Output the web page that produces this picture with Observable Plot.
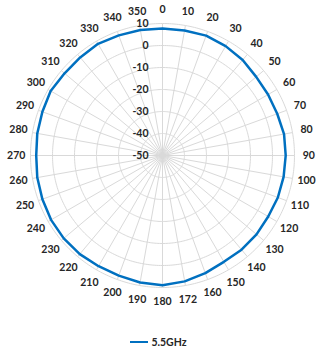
<!DOCTYPE html>
<html>
<head>
<meta charset="utf-8">
<script src="https://cdn.jsdelivr.net/npm/d3@7"></script>
<script src="https://cdn.jsdelivr.net/npm/@observablehq/plot@0.6"></script>
<style>
  html, body { margin: 0; padding: 0; background: #fff; }
  #chart { width: 317px; height: 353px; position: relative; font-family: Lato, "Open Sans", sans-serif; }
  #legend { position: absolute; left: 0; top: 336px; width: 317px; display: flex; justify-content: center; align-items: center; font-size: 10.5px; font-weight: bold; color: #262626; padding-left: 0px; box-sizing: border-box; }
  #legend .sw { display: inline-block; width: 18px; height: 2.5px; background: #0070C0; margin-right: 3px; }
</style>
</head>
<body>
<div id="chart"></div>
<script>
// Angles (degrees, clockwise from top) and their printed labels
const angles = [0,10,20,30,40,50,60,70,80,90,100,110,120,130,140,150,160,170,180,190,200,210,220,230,240,250,260,270,280,290,300,310,320,330,340,350];
const angleLabels = ["0","10","20","30","40","50","60","70","80","90","100","110","120","130","140","150","160","172","180","190","200","210","220","230","240","250","260","270","280","290","300","310","320","330","340","350"];
// Series values (dB) for 5.5GHz
const seriesName = "5.5GHz";
const gain = [7.7,7.7,8.0,7.4,6.7,5.6,5.4,5.5,6.1,6.0,5.9,5.8,5.5,5.8,5.9,5.8,6.9,8.1,9.0,8.6,8.1,8.1,8.5,8.6,8.5,8.1,7.8,7.4,7.8,8.1,8.7,8.1,8.2,8.6,8.1,7.9];
// Radial axis ticks
const ringValues = [-50,-40,-30,-20,-10,0,10];
const rMin = -50, rMax = 10;

const table = angles.map((a, i) => ({angle: a, label: angleLabels[i], gain: gain[i]}));
const lon = a => 180 - a;
const lat = v => 90 - (v - rMin);
const outer = rMax - rMin;
const labelLat = 90 - outer * 1.108;

const font = {fontFamily: "Lato, 'Open Sans', sans-serif", fontWeight: "bold", fontSize: 10.5, fill: "#262626"};

const plot = Plot.plot({
  width: 317,
  height: 325,
  marginLeft: 30,
  marginRight: 23,
  marginTop: 23,
  marginBottom: 38,
  style: {background: "transparent", overflow: "visible"},
  projection: {
    type: "azimuthal-equidistant",
    rotate: [0, -90],
    clip: false,
    domain: d3.geoCircle().center([0, 90]).radius(outer)()
  },
  marks: [
    Plot.geo(ringValues.filter(v => v > rMin), {
      geometry: v => d3.geoCircle().center([0, 90]).radius(v - rMin).precision(1)(),
      stroke: "#d9d9d9", strokeWidth: 1, fill: "none"
    }),
    Plot.link(table, {
      x1: d => lon(d.angle), y1: 89.999, x2: d => lon(d.angle), y2: lat(rMax),
      stroke: "#d9d9d9", strokeWidth: 1
    }),
    Plot.text(ringValues, {
      x: 180, y: v => lat(v), text: v => String(v),
      textAnchor: "end", dx: -14, ...font
    }),
    Plot.line(table, {
      x: d => lon(d.angle), y: d => lat(d.gain),
      curve: "linear-closed", stroke: "#0070C0", strokeWidth: 2.5
    }),
    Plot.text(table, {
      x: d => lon(d.angle), y: labelLat, text: "label", ...font
    })
  ]
});

const chart = document.getElementById("chart");
chart.appendChild(plot);
const legend = document.createElement("div");
legend.id = "legend";
legend.innerHTML = '<span class="sw"></span><span>' + seriesName + '</span>';
chart.appendChild(legend);
</script>
</body>
</html>
